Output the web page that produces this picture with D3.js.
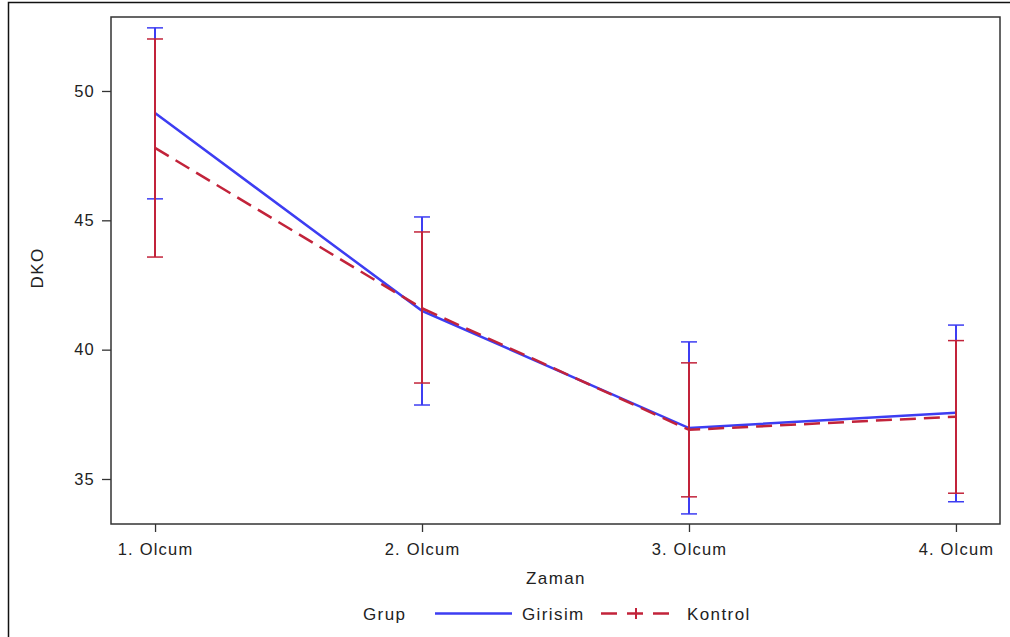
<!DOCTYPE html>
<html lang="tr">
<head>
<meta charset="utf-8">
<title>DKO - Zaman</title>
<script src="https://cdnjs.cloudflare.com/ajax/libs/d3/7.8.5/d3.min.js"></script>
<style>
  html, body { margin: 0; padding: 0; background: #fff; }
  svg text { font-family: "Liberation Sans", Arial, sans-serif; fill: #222; }
  .tick text { font-size: 16.5px; letter-spacing: 1.2px; }
  .lbl { font-size: 17px; letter-spacing: 1.4px; }
</style>
</head>
<body>
<div id="chart"></div>
<script>
// data
const timepoints = ["1. Olcum", "2. Olcum", "3. Olcum", "4. Olcum"];
const girisimMean  = [49.15, 41.50, 36.97, 37.56];
const girisimLower = [45.83, 37.86, 33.65, 34.12];
const girisimUpper = [52.44, 45.13, 40.30, 40.95];
const kontrolMean  = [47.80, 41.60, 36.90, 37.41];
const kontrolLower = [43.58, 38.71, 34.31, 34.45];
const kontrolUpper = [52.01, 44.55, 39.49, 40.35];
const yTicks = [35, 40, 45, 50];
const groupNames = ["Girisim", "Kontrol"];

const W = 1010, H = 637;
const plot = {left: 111, top: 17, right: 1000, bottom: 524};
const blue = "#3d3df2", red = "#c2233a";

const svg = d3.select("#chart").append("svg")
  .attr("width", W)
  .attr("height", H);

// outer border (runs off the right/bottom edge)
svg.append("rect")
  .attr("x", 8.5).attr("y", 2.5)
  .attr("width", W + 20).attr("height", H + 20)
  .attr("fill", "none").attr("stroke", "#111").attr("stroke-width", 1.5);

const x = d3.scalePoint()
  .domain(timepoints)
  .range([plot.left, plot.right])
  .padding(0.165);
// snap to whole pixels so the overlapping bars stay crisp
const xc = function(t) { return Math.round(x(t)); };

const y = d3.scaleLinear()
  .domain([33.26, 52.86])
  .range([plot.bottom, plot.top]);

// frame
svg.append("rect")
  .attr("x", plot.left).attr("y", plot.top)
  .attr("width", plot.right - plot.left).attr("height", plot.bottom - plot.top)
  .attr("fill", "none").attr("stroke", "#333").attr("stroke-width", 1.5);

// axes
const yAxis = svg.append("g")
  .attr("transform", "translate(" + plot.left + ",0)")
  .call(d3.axisLeft(y).tickValues(yTicks).tickSize(9).tickPadding(7));
const xAxis = svg.append("g")
  .attr("transform", "translate(0," + plot.bottom + ")")
  .call(d3.axisBottom(x).tickSize(8).tickPadding(11));
[yAxis, xAxis].forEach(function(g) {
  g.select(".domain").remove();
  g.selectAll(".tick line").attr("stroke", "#333").attr("stroke-width", 1.3);
  g.selectAll(".tick text").attr("fill", "#222").style("font-family", null);
});

// axis labels
svg.append("text").attr("class", "lbl")
  .attr("x", 556).attr("y", 584)
  .attr("text-anchor", "middle")
  .text("Zaman");
svg.append("text").attr("class", "lbl")
  .attr("transform", "translate(43,268) rotate(-90)")
  .attr("text-anchor", "middle")
  .text("DKO");

function series(mean, lower, upper) {
  return timepoints.map(function(t, i) {
    return {t: t, m: mean[i], lo: lower[i], hi: upper[i]};
  });
}
const gData = series(girisimMean, girisimLower, girisimUpper);
const kData = series(kontrolMean, kontrolLower, kontrolUpper);

const line = d3.line()
  .x(function(d) { return xc(d.t); })
  .y(function(d) { return y(d.m); });

function errorBars(data, color) {
  const g = svg.append("g").attr("stroke", color).attr("fill", "none");
  g.selectAll("line.v").data(data).enter().append("line")
    .attr("class", "v")
    .attr("stroke-width", 2)
    .attr("x1", function(d) { return xc(d.t); })
    .attr("x2", function(d) { return xc(d.t); })
    .attr("y1", function(d) { return y(d.lo); })
    .attr("y2", function(d) { return y(d.hi); });
  ["lo", "hi"].forEach(function(k) {
    g.selectAll("line.c" + k).data(data).enter().append("line")
      .attr("class", "c" + k)
      .attr("stroke-width", 1.5)
      .attr("x1", function(d) { return xc(d.t) - 8; })
      .attr("x2", function(d) { return xc(d.t) + 8; })
      .attr("y1", function(d) { return y(d[k]); })
      .attr("y2", function(d) { return y(d[k]); });
  });
}

errorBars(gData, blue);
svg.append("path").datum(gData)
  .attr("d", line)
  .attr("fill", "none").attr("stroke", blue).attr("stroke-width", 2.5);

errorBars(kData, red);
svg.append("path").datum(kData)
  .attr("d", line)
  .attr("fill", "none").attr("stroke", red).attr("stroke-width", 2.5)
  .attr("stroke-dasharray", "16,8");

// legend
const leg = svg.append("g");
leg.append("text").attr("class", "lbl")
  .attr("x", 363).attr("y", 620).text("Grup");
leg.append("line")
  .attr("x1", 435).attr("x2", 512).attr("y1", 613.5).attr("y2", 613.5)
  .attr("stroke", blue).attr("stroke-width", 2.5);
leg.append("text").attr("class", "lbl")
  .attr("x", 522).attr("y", 620).text(groupNames[0]);
leg.append("line")
  .attr("x1", 601).attr("x2", 671).attr("y1", 613.5).attr("y2", 613.5)
  .attr("stroke", red).attr("stroke-width", 2.5)
  .attr("stroke-dasharray", "16,10");
leg.append("line")
  .attr("x1", 636).attr("x2", 636).attr("y1", 608).attr("y2", 619)
  .attr("stroke", red).attr("stroke-width", 2);
leg.append("text").attr("class", "lbl")
  .attr("x", 687).attr("y", 620).text(groupNames[1]);
</script>
</body>
</html>
